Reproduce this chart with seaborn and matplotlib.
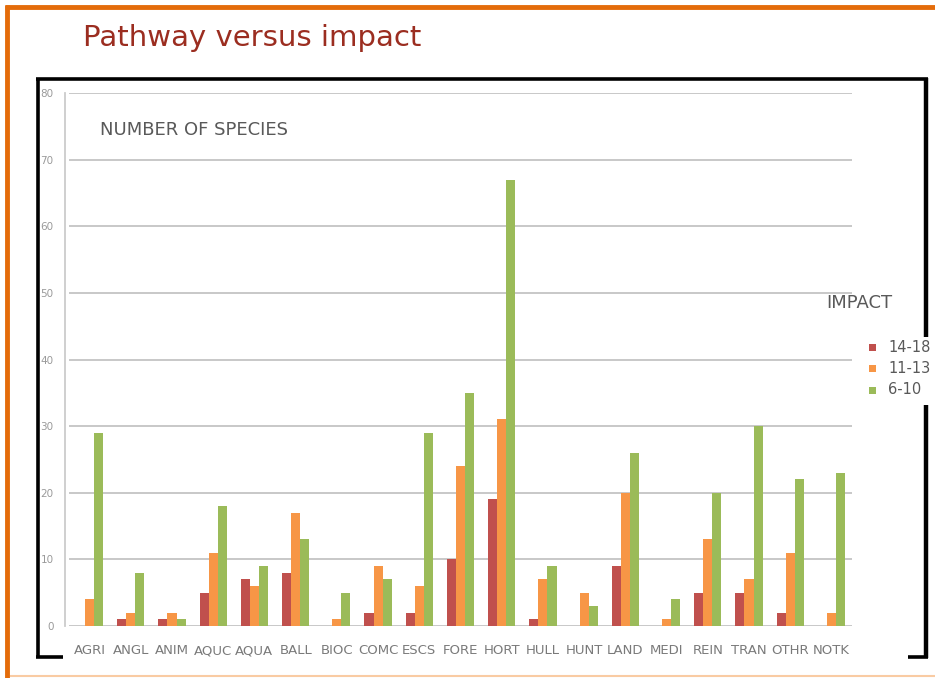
import numpy as np
import pandas as pd
import seaborn as sns
import matplotlib.pyplot as plt
from matplotlib.patches import Rectangle
from matplotlib.lines import Line2D

# chart data
pathways = ['AGRI', 'ANGL', 'ANIM', 'AQUC', 'AQUA', 'BALL', 'BIOC', 'COMC', 'ESCS', 'FORE',
            'HORT', 'HULL', 'HUNT', 'LAND', 'MEDI', 'REIN', 'TRAN', 'OTHR', 'NOTK']
impact_levels = ['14-18', '11-13', '6-10']
impact_14_18 = [0, 1, 1, 5, 7, 8, 0, 2, 2, 10, 19, 1, 0, 9, 0, 5, 5, 2, 0]
impact_11_13 = [4, 2, 2, 11, 6, 17, 1, 9, 6, 24, 31, 7, 5, 20, 1, 13, 7, 11, 2]
impact_6_10 = [29, 8, 1, 18, 9, 13, 5, 7, 29, 35, 67, 9, 3, 26, 4, 20, 30, 22, 23]
y_ticks = [0, 10, 20, 30, 40, 50, 60, 70, 80]
colors = ['#C0504D', '#F79646', '#9BBB59']

df = pd.DataFrame({
    'Pathway': pathways * 3,
    'Impact': [impact_levels[0]] * 19 + [impact_levels[1]] * 19 + [impact_levels[2]] * 19,
    'Species': impact_14_18 + impact_11_13 + impact_6_10,
})

sns.set_style('white')
plt.rcParams['font.family'] = ['DejaVu Sans']

W, H = 935, 678
fig = plt.figure(figsize=(W / 100, H / 100), dpi=100)


def px(x, y):
    return x / W, 1 - y / H


def fline(x0, y0, x1, y1, color, lw):
    a, b = px(x0, y0)
    c, d = px(x1, y1)
    fig.add_artist(Line2D([a, c], [b, d], transform=fig.transFigure, color=color,
                          lw=lw, solid_capstyle='butt'))


ax = fig.add_axes([69 / W, 1 - 626 / H, (852 - 69) / W, (626 - 93) / H])
sns.barplot(data=df, x='Pathway', y='Species', hue='Impact', hue_order=impact_levels,
            palette=colors, saturation=1, width=0.66, gap=0, linewidth=0,
            ax=ax, legend=False, errorbar=None)

ax.set_ylim(0, 80)
ax.set_xlim(-0.5, 18.5)
ax.set_yticks(y_ticks)
ax.set_xlabel('')
ax.set_ylabel('')
ax.yaxis.grid(True, color='#C4C4C4', lw=1.3)
ax.set_axisbelow(True)
for s in ['top', 'right', 'bottom']:
    ax.spines[s].set_visible(False)
ax.spines['left'].set_color('#CCCCCC')
ax.spines['left'].set_linewidth(1.3)
ax.spines['left'].set_position(('outward', 3))

ax.set_xticks(np.arange(-0.5, 19, 1), minor=True)
ax.tick_params(axis='x', which='major', length=0, pad=13, labelsize=9.5, labelcolor='#7A7A7A')
ax.tick_params(axis='x', which='minor', length=4, width=1, color='#C8C8C8')
ax.tick_params(axis='y', length=0, pad=8, labelsize=7.5, labelcolor='#9A9A9A')

ax.text(0.039, 0.93, 'NUMBER OF SPECIES', transform=ax.transAxes, fontsize=13,
        color='#595959', va='center', ha='left')

# title
fig.text(*px(83, 38), 'Pathway versus impact', fontsize=21, color='#9B2D20', va='center')

# slide borders
fline(5, 7, W, 7, '#E46C0A', 3.5)
fline(7, 5, 7, H, '#E46C0A', 3.5)
fline(10, 676, W, 676, '#F9CBA3', 1.5)

# black frame around chart
fline(36, 79, 928, 79, 'black', 2.6)
fline(38, 78, 38, 658, 'black', 2.6)
fline(36, 657, 63, 657, 'black', 2.6)
fline(926, 78, 926, 337, 'black', 3.2)
fline(926, 405, 926, 658, 'black', 3.2)
fline(908, 657, 928, 657, 'black', 2.6)

# legend
fig.text(*px(826, 303), 'IMPACT', fontsize=13, color='#595959', va='center', ha='left')
for i, (lab, col) in enumerate(zip(impact_levels, colors)):
    yc = 347 + i * 21.5
    x0, y0 = px(869, yc + 3.5)
    fig.add_artist(Rectangle((x0, y0), 7 / W, 7 / H, transform=fig.transFigure,
                             facecolor=col, edgecolor='none'))
    fig.text(*px(888, yc), lab, fontsize=10.5, color='#595959', va='center', ha='left')

fig.savefig('out.png', dpi=100)
